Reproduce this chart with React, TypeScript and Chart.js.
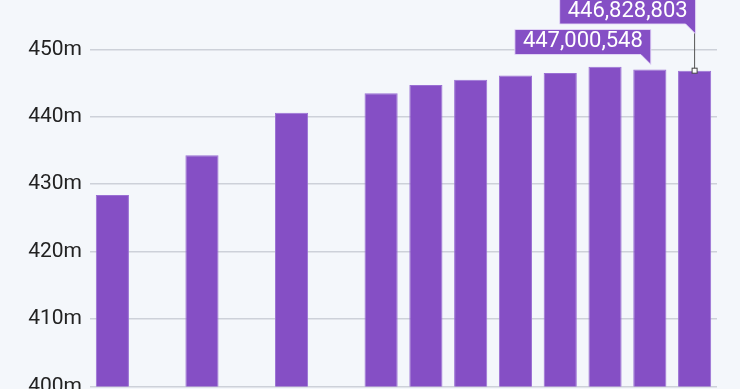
import React, { useEffect, useRef } from "react";
import { Chart, registerables } from "chart.js";

Chart.register(...registerables);

const years = [2009, 2011, 2013, 2015, 2016, 2017, 2018, 2019, 2020, 2021, 2022];
const population = [
  428400000, 434300000, 440600000, 443500000, 444700000, 445500000,
  446100000, 446500000, 447400000, 447000548, 446828803,
];
const yTicks = [400, 410, 420, 430, 440, 450];
const calloutIndexes = [9, 10];

const BAR = "#854fc5";
const BG = "#f4f7fb";

const fmt = (v: number) => v.toLocaleString("en-US");

const calloutPlugin = {
  id: "callouts",
  afterDatasetsDraw(chart: any) {
    const ctx = chart.ctx as CanvasRenderingContext2D;
    const meta = chart.getDatasetMeta(0);
    ctx.save();
    ctx.font = "400 22px Roboto";
    ctx.textBaseline = "middle";
    ctx.textAlign = "center";
    const drawBox = (text: string, right: number, bottom: number) => {
      const w = ctx.measureText(text).width + 16;
      const h = 25;
      const left = right - w;
      const top = bottom - h;
      ctx.beginPath();
      ctx.moveTo(left, top);
      ctx.lineTo(right, top);
      ctx.lineTo(right, bottom + 10);
      ctx.lineTo(right - 10, bottom);
      ctx.lineTo(left, bottom);
      ctx.closePath();
      ctx.fillStyle = BAR;
      ctx.fill();
      ctx.strokeStyle = "rgba(230,218,248,0.9)";
      ctx.lineWidth = 1;
      ctx.stroke();
      ctx.fillStyle = "#ffffff";
      ctx.fillText(text, left + w / 2, top + h / 2 - 0.5);
    };
    {
      const i = calloutIndexes[0];
      const el = meta.data[i];
      drawBox(fmt(population[i]), el.x + 1, el.y - 15);
    }
    {
      const i = calloutIndexes[1];
      const el = meta.data[i];
      const bottom = 24;
      ctx.strokeStyle = "#555555";
      ctx.lineWidth = 1;
      ctx.beginPath();
      ctx.moveTo(el.x, bottom + 9);
      ctx.lineTo(el.x, el.y);
      ctx.stroke();
      drawBox(fmt(population[i]), el.x + 1, bottom);
      ctx.fillStyle = "#ffffff";
      ctx.strokeStyle = "#444444";
      ctx.lineWidth = 1;
      ctx.fillRect(el.x - 2.5, el.y - 2.5, 5, 5);
      ctx.strokeRect(el.x - 2.5, el.y - 2.5, 5, 5);
    }
    ctx.restore();
  },
};

export default function App() {
  const ref = useRef<HTMLCanvasElement | null>(null);
  useEffect(() => {
    if (!ref.current) return;
    const H = 430;
    const chart = new Chart(ref.current, {
      type: "bar",
      data: {
        datasets: [
          {
            data: years.map((y, i) => ({ x: y, y: population[i] })),
            backgroundColor: BAR,
            borderColor: "#9a70d4",
            borderWidth: 1,
            barPercentage: 0.74,
            categoryPercentage: 1,
          },
        ],
      },
      options: {
        animation: false,
        responsive: false,
        maintainAspectRatio: false,
        layout: { padding: { left: 0, right: 23, top: 49.3, bottom: H - 386.5 } },
        plugins: { legend: { display: false }, tooltip: { enabled: false } },
        scales: {
          x: {
            type: "linear",
            offset: false,
            min: 2008.5,
            max: 2022.5,
            display: false,
          },
          y: {
            min: 400000000,
            max: 450000000,
            afterBuildTicks: (s: any) => {
              s.ticks = yTicks.map((v) => ({ value: v * 1e6 }));
            },
            afterFit: (s: any) => {
              s.width = 90;
            },
            border: { display: false },
            grid: { color: "#cdd1d9", lineWidth: 1.5, drawTicks: false },
            ticks: {
              padding: 8,
              color: "#222222",
              font: { family: "Roboto", size: 21 },
              callback: (v: any) => `${Math.round(Number(v) / 1e6)}m`,
            },
          },
        },
      },
      plugins: [calloutPlugin],
    });
    return () => chart.destroy();
  }, []);
  return (
    <div style={{ position: "fixed", left: 0, top: 0, width: 740, height: 430, background: BG }}>
      <canvas ref={ref} width={740} height={430} style={{ display: "block" }} />
    </div>
  );
}
